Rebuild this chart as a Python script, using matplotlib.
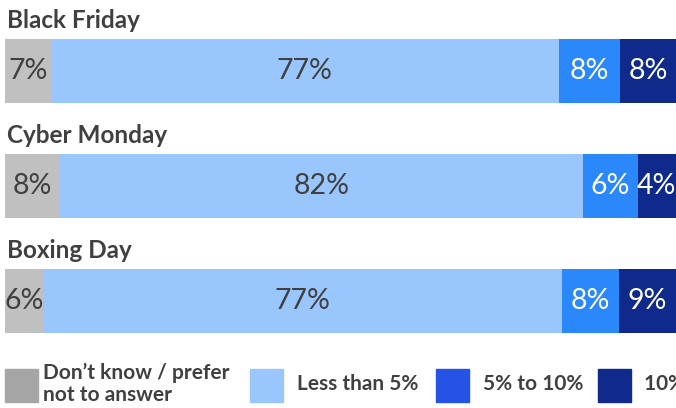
import numpy as np
import matplotlib
matplotlib.use('Agg')
import matplotlib.pyplot as plt
from matplotlib.patches import Rectangle

events = ['Black Friday', 'Cyber Monday', 'Boxing Day']
# bar widths as drawn in the picture (share of the bar, %)
dont_know = [6.9, 8.2, 5.7]
less_5 = [75.6, 77.9, 77.3]
five_ten = [9.2, 8.2, 8.5]
over_10 = [8.3, 5.7, 8.5]
# values printed on the bars
dont_know_lbl = ['7%', '8%', '6%']
less_5_lbl = ['77%', '82%', '77%']
five_ten_lbl = ['8%', '6%', '8%']
over_10_lbl = ['8%', '4%', '9%']
series_names = ["Don\u2019t know / prefer\nnot to answer", 'Less than 5%', '5% to 10%', '10% or more']

bar_colors = ['#c0c0c0', '#99c6fd', '#2b88fb', '#0f2a8a']
legend_colors = ['#a5a5a5', '#99c6fd', '#2453e6', '#0f2a8a']
label_colors = ['#404040', '#404040', 'white', 'white']

plt.rcParams['font.family'] = ['Lato', 'DejaVu Sans']

W, H = 676, 408
fig = plt.figure(figsize=(W/100, H/100), dpi=100)
ax = fig.add_axes([5/W, (H-333)/H, 1 - 5/W, (333-39)/H])

series = [dont_know, less_5, five_ten, over_10]
labels = [dont_know_lbl, less_5_lbl, five_ten_lbl, over_10_lbl]
ypos = np.arange(len(events))
bh = 64/115
left = np.zeros(len(events))
for vals, lbls, col, lc in zip(series, labels, bar_colors, label_colors):
  vals = np.array(vals, dtype=float)
  ax.barh(ypos, vals, left=left, height=bh, color=col, edgecolor='none')
  for y, l, v, t in zip(ypos, left, vals, lbls):
    ax.text(l + v/2, y, t, ha='center', va='center', fontsize=20.5, color=lc)
  left += vals

for y, name in zip(ypos, events):
  ax.text(0.25, y - 51/115, name, ha='left', va='center', fontsize=17.5, fontweight='bold', color='#404040')

ax.set_xlim(0, 100)
ax.set_ylim(2 + bh/2, -bh/2)
ax.axis('off')

# legend along the bottom
box_x = [5, 250, 436, 598]
text_x = [43, 297, 483, 644]
for bx, tx, col, name in zip(box_x, text_x, legend_colors, series_names):
  fig.patches.append(Rectangle((bx/W, (H-402)/H), 33/W, 33/H, transform=fig.transFigure,
                               color=col, figure=fig))
  fig.text(tx/W, (H-384)/H, name, ha='left', va='center', fontsize=15, fontweight='bold',
           color='#404040', linespacing=1.15)

fig.savefig('out.png', dpi=100)
